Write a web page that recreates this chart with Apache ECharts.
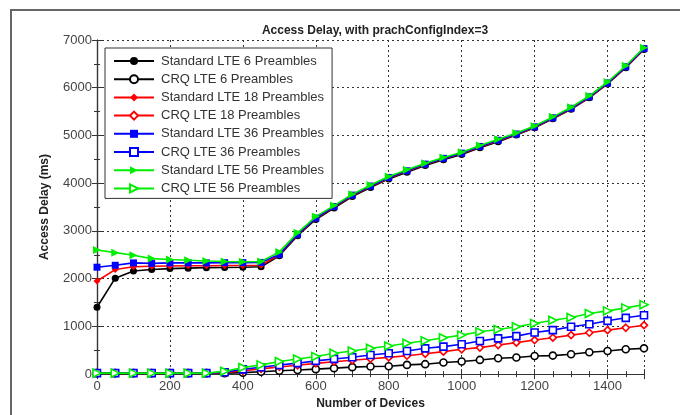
<!DOCTYPE html>
<html><head><meta charset="utf-8">
<script src="https://cdn.jsdelivr.net/npm/echarts@6/dist/echarts.min.js"></script>
<style>html,body{margin:0;padding:0;background:#fff}#c{width:680px;height:415px}</style>
</head><body><div id="c"></div>
<script>
const devices = [0,50,100,150,200,250,300,350,400,450,500,550,600,650,700,750,800,850,900,950,1000,1050,1100,1150,1200,1250,1300,1350,1400,1450,1500];
const std6  = [1400,2010,2160,2190,2210,2220,2230,2235,2240,2250,2480,2900,3240,3480,3720,3910,4090,4230,4370,4490,4600,4740,4870,5010,5160,5350,5550,5790,6080,6420,6800];
const crq6  = [20,20,20,20,20,20,20,20,30,50,70,85,104,125,146,160,165,193,208,243,264,297,333,347,380,388,416,457,484,520,540];
const std18 = [1950,2190,2250,2260,2265,2270,2270,2275,2275,2280,2500,2920,3260,3500,3740,3930,4110,4250,4390,4510,4620,4760,4890,5020,5170,5360,5560,5800,6090,6430,6810];
const crq18 = [20,20,20,20,20,20,20,30,70,110,150,185,225,260,290,320,350,385,425,470,520,555,609,659,713,763,817,867,921,971,1025];
const std36 = [2240,2280,2330,2320,2330,2330,2330,2335,2335,2340,2510,2930,3270,3510,3750,3940,4120,4260,4400,4520,4630,4770,4900,5030,5180,5370,5570,5810,6100,6440,6820];
const crq36 = [20,20,20,20,20,20,20,40,100,145,190,229,277,318,353,401,437,484,540,575,624,692,748,796,873,921,992,1046,1116,1179,1233];
const std56 = [2600,2545,2490,2420,2400,2385,2370,2360,2355,2360,2560,2960,3300,3530,3770,3960,4140,4280,4420,4540,4650,4790,4920,5050,5200,5390,5590,5830,6120,6460,6840];
const crq56 = [20,20,20,20,20,20,20,60,139,193,264,318,368,437,484,540,588,645,700,763,817,888,936,992,1060,1129,1185,1268,1324,1387,1455];
const seriesNames = ['Standard LTE 6 Preambles','CRQ LTE 6 Preambles','Standard LTE 18 Preambles','CRQ LTE 18 Preambles','Standard LTE 36 Preambles','CRQ LTE 36 Preambles','Standard LTE 56 Preambles','CRQ LTE 56 Preambles'];
const seriesValues = [std6,crq6,std18,crq18,std36,crq36,std56,crq56];

const colors = ['#000000','#000000','#ff0000','#ff0000','#0000ff','#0000ff','#00ee00','#00ee00'];
const symbols = ['circle','circle','diamond','diamond','rect','rect','path://M0,0 L10,5 L0,10 Z','path://M0,0 L10,5 L0,10 Z'];
const sizes = [7,7,7,7,7,7,8,8];

const series = seriesNames.map((n,i)=>{
  const open = i%2===1;
  return {
    name:n, type:'line', data: devices.map((d,k)=>[d, seriesValues[i][k]]),
    symbol: symbols[i], symbolSize: sizes[i], showAllSymbol:true,
    lineStyle:{color:colors[i], width:1.6},
    itemStyle:{color: open ? '#ffffff' : colors[i], borderColor: colors[i], borderWidth: open?1.6:0},
    emphasis:{disabled:true}, animation:false, z: 2+i
  };
});

const chart = echarts.init(document.getElementById('c'), null, {renderer:'canvas'});
const axisLine = {show:true, lineStyle:{color:'#333', width:1.2}};
const plain = v => String(v);
chart.setOption({
  animation:false,
  backgroundColor:'#fff',
  title:{text:'Access Delay, with prachConfigIndex=3', left:370, textAlign:'center', top:20,
    textStyle:{fontFamily:'Liberation Sans', fontSize:12, fontWeight:'bold', color:'#222'}},
  graphic:[{type:'rect', shape:{x:11, y:10, width:720, height:460}, style:{fill:'none', stroke:'#666', lineWidth:2}, silent:true}],
  legend:{orient:'vertical', left:105, top:48, itemWidth:40, itemHeight:10, itemGap:4.2,
    padding:[6,8,3,8], backgroundColor:'#fff', borderColor:'#333', borderWidth:1, borderRadius:0,
    textStyle:{fontFamily:'Liberation Sans', fontSize:13, color:'#333', lineHeight:14, padding:[0,0,0,2]},
    data: seriesNames, selectedMode:false},
  grid:{left:97, right:36, top:40, bottom:39, show:false},
  xAxis:[{type:'value', min:0, max:1500, interval:200, position:'bottom',
      name:'Number of Devices', nameLocation:'middle', nameGap:22,
      nameTextStyle:{fontFamily:'Liberation Sans', fontSize:12, fontWeight:'bold', color:'#222'},
      axisLine, axisTick:{show:true, inside:true, length:5, lineStyle:{color:'#333'}},
      minorTick:{show:true, splitNumber:4, length:3, lineStyle:{color:'#333'}},
      axisLabel:{fontFamily:'Liberation Sans', fontSize:13, color:'#444', margin:6, showMaxLabel:false, formatter:plain},
      splitLine:{show:true, lineStyle:{color:'#333', type:[2,3], width:1}}},
    {type:'value', min:0, max:1500, interval:200, position:'top',
      axisLine, axisTick:{show:true, inside:true, length:5, lineStyle:{color:'#333'}},
      minorTick:{show:true, splitNumber:4, length:3, lineStyle:{color:'#333'}},
      axisLabel:{show:false}, splitLine:{show:false}}],
  yAxis:[{type:'value', min:0, max:7000, interval:1000, position:'left',
      name:'Access Delay (ms)', nameLocation:'middle', nameGap:46,
      nameTextStyle:{fontFamily:'Liberation Sans', fontSize:12, fontWeight:'bold', color:'#222'},
      axisLine, axisTick:{show:true, inside:true, length:5, lineStyle:{color:'#333'}},
      minorTick:{show:true, splitNumber:2, length:3, lineStyle:{color:'#333'}},
      axisLabel:{fontFamily:'Liberation Sans', fontSize:13, color:'#444', margin:5, formatter:plain},
      splitLine:{show:true, lineStyle:{color:'#333', type:[2,3], width:1}}},
    {type:'value', min:0, max:7000, interval:1000, position:'right',
      axisLine, axisTick:{show:true, inside:true, length:5, lineStyle:{color:'#333'}},
      minorTick:{show:true, splitNumber:2, length:3, lineStyle:{color:'#333'}},
      axisLabel:{show:false}, splitLine:{show:false}}],
  series
});
</script></body></html>
